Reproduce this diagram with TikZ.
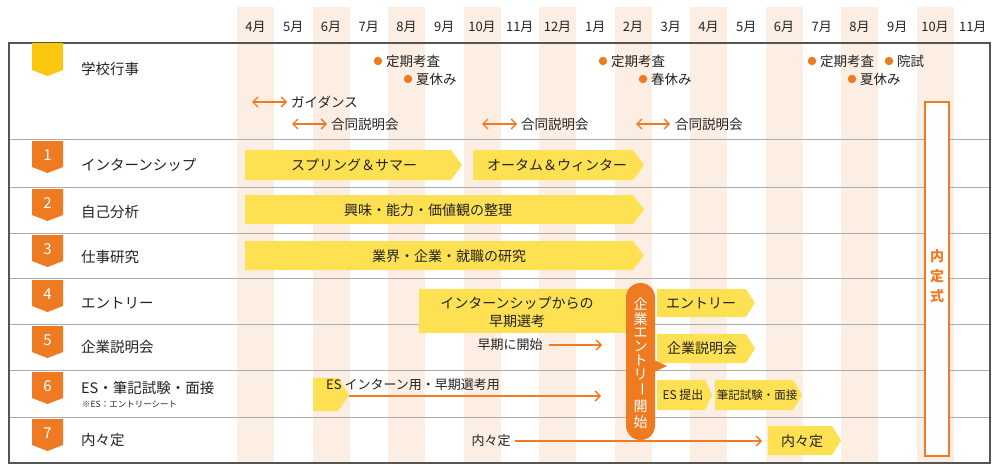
\documentclass[tikz,border=0pt]{standalone}
\usepackage{fontspec}
\usepackage{graphicx}
\setmainfont{Noto Sans CJK JP}
\usetikzlibrary{arrows.meta}
\definecolor{orng}{HTML}{EE7A22}
\definecolor{ylw}{HTML}{FEE152}
\definecolor{gold}{HTML}{F9C80E}
\definecolor{peach}{HTML}{FDEEE3}
\definecolor{framec}{HTML}{555555}
\definecolor{sepc}{HTML}{ABABAB}
\definecolor{ink}{HTML}{222222}
\begin{document}
\begin{tikzpicture}[x=1pt,y=-1pt,
  every node/.style={inner sep=0pt,text=ink},
  lbl/.style={anchor=west,font=\fontsize{14.5}{17}\selectfont},
  mon/.style={font=\fontsize{13}{15}\selectfont},
  ev/.style={anchor=west,font=\fontsize{13.5}{16}\selectfont},
  bartxt/.style={font=\fontsize{14}{16}\selectfont},
  smalltxt/.style={font=\fontsize{13}{15}\selectfont},
  barfill/.style={fill=ylw},
  dot/.style={circle,fill=orng,minimum size=8.5pt},
  tipb/.tip={Straight Barb[length=5pt,width=10pt]},
  oarrow/.style={draw=orng,line width=1.4pt,-tipb},
  darrow/.style={draw=orng,line width=1.4pt,tipb-tipb},
  badgenum/.style={text=white,font=\fontsize{15}{17}\selectfont},
  pilltxt/.style={text=white,font=\fontsize{14}{16}\selectfont},
  ntxt/.style={text=orng,font=\fontsize{14}{16}\selectfont\bfseries}]
\useasboundingbox (0,0) rectangle (1000,474);
\fill[white] (0,0) rectangle (1000,474);
% stripes
\foreach \i in {0,2,...,18}
  \fill[peach] ({237+\i*37.75},7) rectangle ++(37,455);
% months
\foreach \m [count=\i from 0] in {4,5,6,7,8,9,10,11,12,1,2,3,4,5,6,7,8,9,10,11}
  \node[mon] (m\i) at ({237+\i*37.75+18.5},27) {{\m}月};
% separators and frame
\foreach \y in {139,187,233,278,324,370,417}
  \draw[sepc,line width=1pt] (9,\y) -- (990,\y);
\draw[framec,line width=1.3pt] (9,43) rectangle (990,463);
% badges
\fill[gold] (32,43) -- (63,43) -- (63,70) -- (47.5,76) -- (32,70) -- cycle;
\foreach \n/\t in {1/141,2/189,3/235,4/280,5/326,6/372,7/419}{
  \fill[orng] (32,\t) -- (63,\t) -- (63,\t+26) -- (47.5,\t+32) -- (32,\t+26) -- cycle;
  \node[badgenum] (b\n) at (47.5,\t+14) {\n};
}
% row labels
\node[lbl] (r0) at (81,69) {学校行事};
\node[lbl] (r1) at (81,165) {インターンシップ};
\node[lbl] (r2) at (81,212) {自己分析};
\node[lbl] (r3) at (81,257) {仕事研究};
\node[lbl] (r4) at (81,303) {エントリー};
\node[lbl] (r5) at (81,347) {企業説明会};
\node[lbl] (r6) at (81,388) {ES・筆記試験・面接};
\node[anchor=west,font=\fontsize{8.5}{10}\selectfont] (r6s) at (82,404) {※ES：エントリーシート};
\node[lbl] (r7) at (81,440) {内々定};
% school events
\node[dot] (d1) at (378,61) {};  \node[ev] (e1) at (386,61) {定期考査};
\node[dot] (d2) at (408,79) {};  \node[ev] (e2) at (416,79) {夏休み};
\node[dot] (d3) at (603,61) {};  \node[ev] (e3) at (611,61) {定期考査};
\node[dot] (d4) at (643,79) {};  \node[ev] (e4) at (651,79) {春休み};
\node[dot] (d5) at (812,61) {};  \node[ev] (e5) at (820,61) {定期考査};
\node[dot] (d6) at (889,61) {};  \node[ev] (e6) at (897,61) {院試};
\node[dot] (d7) at (852,79) {};  \node[ev] (e7) at (860,79) {夏休み};
% double arrows
\coordinate (g1) at (252,102); \node[ev] (gt1) at (291,102) {ガイダンス};
\draw[darrow] (g1) -- ([xshift=-4pt]gt1.west);
\coordinate (g2) at (292,124); \node[ev] (gt2) at (331,124) {合同説明会};
\draw[darrow] (g2) -- ([xshift=-4pt]gt2.west);
\coordinate (g3) at (482,124); \node[ev] (gt3) at (521,124) {合同説明会};
\draw[darrow] (g3) -- ([xshift=-4pt]gt3.west);
\coordinate (g4) at (636,124); \node[ev] (gt4) at (675,124) {合同説明会};
\draw[darrow] (g4) -- ([xshift=-5pt]gt4.west);
% row 1
\fill[barfill] (245,150) -- (451,150) -- (462,165) -- (451,180) -- (245,180) -- cycle;
\node[bartxt] (t1a) at (354,165) {スプリング＆サマー};
\fill[barfill] (473,150) -- (633,150) -- (644,165) -- (633,180) -- (473,180) -- cycle;
\node[bartxt] (t1b) at (557,165) {オータム＆ウィンター};
% row 2
\fill[barfill] (245,195) -- (633,195) -- (644,209.5) -- (633,224) -- (245,224) -- cycle;
\node[bartxt] (t2) at (428,210) {興味・能力・価値観の整理};
% row 3
\fill[barfill] (245,241) -- (633,241) -- (644,255.5) -- (633,270) -- (245,270) -- cycle;
\node[bartxt] (t3) at (449,256) {業界・企業・就職の研究};
% row 4
\fill[barfill] (419,289) rectangle (640,333);
\node[bartxt,align=center,font=\fontsize{14}{18}\selectfont] (t4) at (517,312) {インターンシップからの\\早期選考};
\fill[barfill] (657,289) -- (746,289) -- (755,303) -- (746,317) -- (657,317) -- cycle;
\node[bartxt] (t4b) at (701,303) {エントリー};
% row 5
\node[smalltxt] (t5) at (510,345) {早期に開始};
\coordinate (a5) at (602,345);
\draw[oarrow] ([xshift=6pt]t5.east) -- (a5);
\fill[barfill] (657,334) -- (746,334) -- (755,348.5) -- (746,363) -- (657,363) -- cycle;
\node[bartxt] (t5b) at (702,348.5) {企業説明会};
% row 6
\fill[barfill] (313,378) -- (338,378) -- (349,395) -- (338,411) -- (313,411) -- cycle;
\node[anchor=west,smalltxt] (t6) at (326,385) {ES インターン用・早期選考用};
\coordinate (a6s) at (349,396); \coordinate (a6e) at (601,396);
\draw[oarrow] (a6s) -- (a6e);
\fill[barfill] (657,380) -- (705,380) -- (712,395) -- (705,410) -- (657,410) -- cycle;
\node[font=\fontsize{12}{14}\selectfont] (t6b) at (683,395) {ES 提出};
\fill[barfill] (715,380) -- (793,380) -- (802,395) -- (793,410) -- (715,410) -- cycle;
\node[font=\fontsize{11.5}{14}\selectfont] (t6c) at (757,395) {筆記試験・面接};
% row 7
\node[smalltxt] (t7) at (491,441) {内々定};
\coordinate (a7) at (762,441);
\draw[oarrow] ([xshift=4pt]t7.east) -- (a7);
\fill[barfill] (768,426) -- (832,426) -- (841,440.5) -- (832,455) -- (768,455) -- cycle;
\node[bartxt] (t7b) at (802,441) {内々定};
% pill
\fill[orng,rounded corners=14.5pt] (626,283) rectangle (655,440);
\fill[orng] (654,360) -- (667,366) -- (654,372) -- cycle;
\foreach \c/\yy [count=\i] in {企/304,業/319,エ/333,ン/346,ト/360,リ/374,開/406,始/422}
  \node[pilltxt] (pc\i) at (640.5,\yy) {\c};
\node[pilltxt,rotate=-90] (pcbar) at (640.5,389) {ー};
% naiteishiki
\draw[orng,fill=white,line width=1.2pt] (925,102) rectangle (949,456);
\node[ntxt] (n1) at (937,256) {内};
\node[ntxt] (n2) at (937,276) {定};
\node[ntxt] (n3) at (937,296) {式};
\end{tikzpicture}
\end{document}
